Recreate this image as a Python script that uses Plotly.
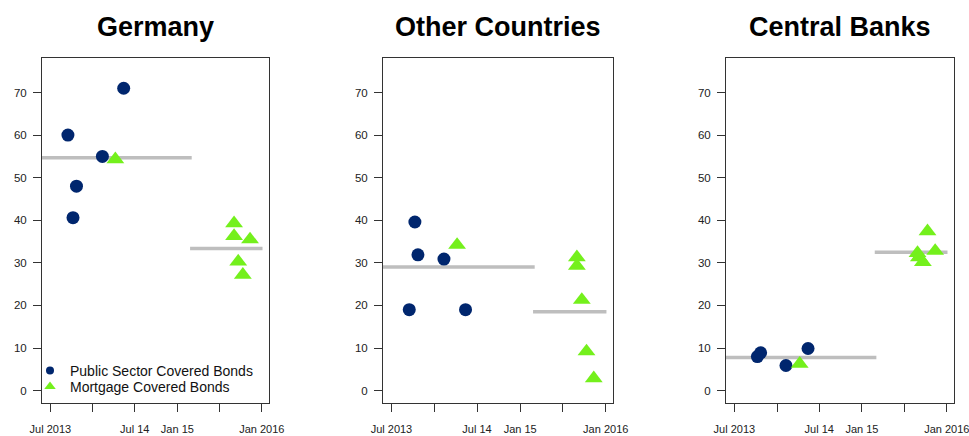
import plotly.graph_objects as go

# ---------------- data ----------------
panel_titles = ["Germany", "Other Countries", "Central Banks"]

de_psc_dates = ["2013-09-15", "2013-10-07", "2013-10-22", "2014-02-11", "2014-05-14"]
de_psc_vals = [60.0, 40.6, 48.0, 55.0, 71.0]
de_mcb_dates = ["2014-04-08", "2015-09-03", "2015-09-03", "2015-11-11", "2015-09-21", "2015-10-11"]
de_mcb_vals = [54.3, 39.3, 36.3, 35.5, 30.3, 27.2]
de_means = [54.7, 33.4]

oc_psc_dates = ["2013-10-09", "2013-10-22", "2014-02-10", "2013-09-15", "2014-05-13"]
oc_psc_vals = [39.6, 31.9, 30.9, 19.0, 19.0]
oc_mcb_dates = ["2014-04-07", "2015-08-31", "2015-08-31", "2015-09-21", "2015-10-11", "2015-11-11"]
oc_mcb_vals = [34.2, 31.3, 29.3, 21.3, 9.2, 2.9]
oc_means = [29.05, 18.5]

cb_psc_dates = ["2013-10-08", "2013-10-22", "2014-02-08", "2014-05-14"]
cb_psc_vals = [8.0, 8.9, 5.9, 9.9]
cb_mcb_dates = ["2014-04-08", "2015-10-10", "2015-08-28", "2015-09-03", "2015-09-20", "2015-11-12"]
cb_mcb_vals = [6.3, 37.4, 32.3, 31.3, 30.2, 32.8]
cb_means = [7.8, 32.5]

mean_period1 = ["2013-05-26", "2015-03-04"]
mean_period2 = ["2015-02-25", "2016-01-04"]

x_tick_vals = ["2013-07-01", "2014-01-01", "2014-07-01", "2015-01-01", "2015-07-01", "2016-01-01"]
x_tick_text = ["Jul 2013", "", "Jul 14", "Jan 15", "", "Jan 2016"]
y_tick_vals = [0, 10, 20, 30, 40, 50, 60, 70]

series_names = ["Public Sector Covered Bonds", "Mortgage Covered Bonds"]

# ---------------- style ----------------
W, H = 969, 436
NAVY = "#00266E"
GREEN = "#74F01C"
GREY = "#BEBEBE"
FONT = "Liberation Sans, Arial, Helvetica, sans-serif"

panels = [
    (de_psc_dates, de_psc_vals, de_mcb_dates, de_mcb_vals, de_means),
    (oc_psc_dates, oc_psc_vals, oc_mcb_dates, oc_mcb_vals, oc_means),
    (cb_psc_dates, cb_psc_vals, cb_mcb_dates, cb_mcb_vals, cb_means),
]
x_px = [(42, 269), (383, 613), (726, 954)]
y_px = (58, 403)

fig = go.Figure()
for i, (pd_, pv, md, mv, means) in enumerate(panels):
    xa = "x" if i == 0 else f"x{i+1}"
    ya = "y" if i == 0 else f"y{i+1}"
    for per, m in zip([mean_period1, mean_period2], means):
        fig.add_trace(go.Scatter(x=per, y=[m, m], mode="lines", xaxis=xa, yaxis=ya,
                                 line=dict(color=GREY, width=3.5), showlegend=False,
                                 hoverinfo="skip"))
    fig.add_trace(go.Scatter(x=pd_, y=pv, mode="markers", xaxis=xa, yaxis=ya,
                             marker=dict(symbol="circle", size=13, color=NAVY),
                             name=series_names[0], showlegend=False))
    fig.add_trace(go.Scatter(x=md, y=mv, mode="markers", xaxis=xa, yaxis=ya,
                             marker=dict(symbol="triangle-up", size=15.5, color=GREEN),
                             name=series_names[1], showlegend=False))

# legend-only entries with small symbols, one legend per row for tight spacing
fig.add_trace(go.Scatter(x=[None], y=[None], mode="markers", name=series_names[0],
                         marker=dict(symbol="circle", size=8, color=NAVY), legend="legend"))
fig.add_trace(go.Scatter(x=[None], y=[None], mode="markers", name=series_names[1],
                         marker=dict(symbol="triangle-up", size=10, color=GREEN), legend="legend2"))

leg_common = dict(xanchor="left", yanchor="middle", bgcolor="rgba(0,0,0,0)",
                  font=dict(size=14, color="#111111"), itemsizing="trace",
                  borderwidth=0)
layout = dict(
    width=W, height=H,
    margin=dict(l=0, r=0, t=0, b=0),
    paper_bgcolor="white", plot_bgcolor="white",
    font=dict(family=FONT, size=12, color="#222222"),
    showlegend=True,
    legend=dict(x=30 / W, y=1 - 371 / H, **leg_common),
    legend2=dict(x=30 / W, y=1 - 387 / H, **leg_common),
    annotations=[],
)
for i in range(3):
    xk = "xaxis" if i == 0 else f"xaxis{i+1}"
    yk = "yaxis" if i == 0 else f"yaxis{i+1}"
    xs = "x" if i == 0 else f"x{i+1}"
    layout[xk] = dict(
        domain=[x_px[i][0] / W, x_px[i][1] / W], anchor="y" if i == 0 else f"y{i+1}",
        type="date", range=["2013-05-26", "2016-02-01"],
        tickmode="array", tickvals=x_tick_vals, ticktext=x_tick_text,
        ticks="outside", ticklen=8, tickwidth=1, tickcolor="#333333",
        showline=True, mirror=True, linecolor="#333333", linewidth=1,
        showgrid=False, zeroline=False, tickfont=dict(size=11, color="#222222"),
        ticklabelstandoff=8, ticklabeloverflow="allow", automargin=False,
    )
    layout[yk] = dict(
        domain=[1 - y_px[1] / H, 1 - y_px[0] / H], anchor=xs,
        range=[-2.9, 78.1], tickmode="array", tickvals=y_tick_vals,
        ticks="outside", ticklen=8, tickwidth=1, tickcolor="#333333",
        showline=True, mirror=True, linecolor="#333333", linewidth=1,
        showgrid=False, zeroline=False, tickfont=dict(size=11.5, color="#222222"),
        ticklabelstandoff=4, automargin=False,
    )
    layout["annotations"].append(dict(
        text=f"<b>{panel_titles[i]}</b>", xref="paper", yref="paper",
        x=(x_px[i][0] + x_px[i][1]) / 2 / W, y=1 - 27 / H, xanchor="center", yanchor="middle",
        showarrow=False, font=dict(size=27, color="#000000", family=FONT),
    ))

fig.update_layout(**layout)
fig.write_html("out.html", config={"displayModeBar": False},
               post_script="document.body.style.margin='0';document.body.style.overflow='hidden';")
